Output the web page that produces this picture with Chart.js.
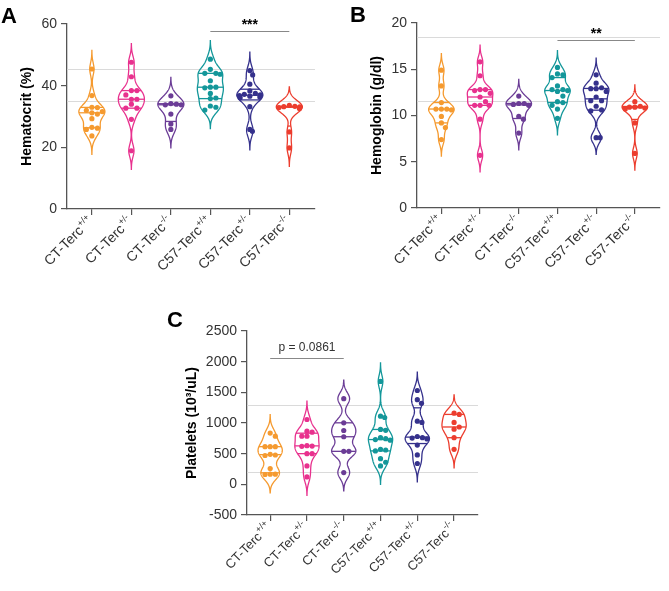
<!DOCTYPE html>
<html lang="en">
<head>
<meta charset="UTF-8">
<title>Terc blood counts</title>
<script src="https://cdn.jsdelivr.net/npm/chart.js"></script>
<style>
  body { margin: 0; background: #fff; font-family: "Liberation Sans", Arial, sans-serif; }
  .wrap { position: relative; width: 669px; height: 591px; }
  canvas, .letter { position: absolute; }
  .letter { font-weight: bold; font-size: 22px; line-height: 22px; color: #000; }
</style>
</head>
<body>
<div class="wrap">
  <canvas id="chartA" width="335" height="300" style="left:0;top:0"></canvas>
  <canvas id="chartB" width="334" height="300" style="left:335px;top:0"></canvas>
  <canvas id="chartC" width="340" height="291" style="left:160px;top:300px"></canvas>
  <div class="letter" style="left:1px;top:5px">A</div>
  <div class="letter" style="left:350px;top:4px">B</div>
  <div class="letter" style="left:167px;top:309px">C</div>
</div>
<script>
  // groups on the x axis
  var categories = ['CT-Terc', 'CT-Terc', 'CT-Terc', 'C57-Terc', 'C57-Terc', 'C57-Terc'];
  var genotypes = ['+/+', '+/-', '-/-', '+/+', '+/-', '-/-'];
  var colors = ['#F59A2F', '#E8318E', '#6B3C96', '#13979A', '#35318C', '#EC3D2E'];

  // values, one array per group
  var hematocrit = [
    [45.4, 36.8, 33.0, 32.9, 32.0, 31.6, 31.2, 30.8, 29.3, 26.5, 26.2, 25.8, 23.7],
    [47.6, 42.9, 38.4, 38.4, 37.0, 35.6, 35.6, 34.0, 32.7, 32.7, 29.1, 18.9],
    [36.7, 34.2, 34.0, 33.8, 33.8, 30.8, 27.6, 25.8],
    [48.6, 45.3, 44.0, 44.0, 43.7, 41.6, 39.5, 39.5, 39.3, 37.5, 36.0, 35.8, 33.4, 33.0, 32.1],
    [44.9, 43.5, 40.5, 38.3, 37.5, 37.2, 37.0, 36.8, 36.6, 36.3, 36.1, 33.2, 25.8, 25.2],
    [33.6, 33.3, 33.2, 33.1, 32.9, 32.6, 25.0, 19.8]
  ];
  var hemoglobin = [
    [14.9, 13.2, 11.4, 10.7, 10.7, 10.7, 10.6, 9.9, 9.2, 8.7, 7.4],
    [15.8, 14.3, 12.8, 12.8, 12.7, 12.4, 12.0, 11.5, 11.1, 11.1, 11.1, 9.6, 5.7],
    [12.1, 11.3, 11.3, 11.2, 11.1, 9.9, 9.6, 8.1],
    [15.2, 14.5, 14.4, 14.1, 13.2, 12.8, 12.8, 12.7, 12.6, 12.1, 11.5, 11.4, 11.1, 10.7, 9.7],
    [14.4, 13.5, 13.0, 12.9, 12.9, 12.6, 12.0, 11.6, 11.6, 11.0, 10.6, 10.5, 7.6, 7.6],
    [11.5, 11.0, 10.9, 10.9, 10.8, 10.7, 9.2, 5.9]
  ];
  var platelets = [
    [835, 786, 614, 614, 614, 490, 478, 470, 257, 165, 165, 160],
    [1057, 867, 850, 786, 786, 630, 624, 620, 500, 500, 300, 121],
    [1397, 1003, 878, 776, 538, 538, 192],
    [1678, 1111, 1090, 895, 880, 760, 745, 730, 720, 570, 560, 545, 419, 360, 300],
    [1530, 1380, 1320, 1030, 1010, 780, 760, 755, 740, 640, 480, 340],
    [1160, 1140, 1010, 935, 900, 760, 570]
  ];

  // normal ranges (light grey lines)
  var hctRange = [35, 45.5];
  var hgbRange = [11.6, 18.5];
  var pltRange = [200, 1290];

  var font = '"Liberation Sans", Arial, sans-serif';
  var violinWidth = 0.33;

  function density(vals, v, h) {
    var s = 0;
    vals.forEach(function (d) { var z = (v - d) / h; s += Math.exp(-0.5 * z * z); });
    return s;
  }

  function peakDensity(vals, h) {
    var lo = Math.min.apply(null, vals) - 3 * h, hi = Math.max.apply(null, vals) + 3 * h, m = 0;
    for (var k = 0; k <= 200; k++) m = Math.max(m, density(vals, lo + (hi - lo) * k / 200, h));
    return m;
  }

  function quantile(vals, p) {
    var s = vals.slice().sort(function (a, b) { return a - b; });
    var pos = p * (s.length + 1) - 1;
    if (pos <= 0) return s[0];
    if (pos >= s.length - 1) return s[s.length - 1];
    var lo = Math.floor(pos);
    return s[lo] + (pos - lo) * (s[lo + 1] - s[lo]);
  }

  // spread points with (nearly) equal values sideways, kept inside the violin
  function swarm(vals, idx, tol, h) {
    var step = 0.14, placed = [], peak = peakDensity(vals, h);
    return vals.map(function (v) {
      var off = 0;
      for (var k = 0; k < 14; k++) {
        var cand = k === 0 ? 0 : (k % 2 ? 1 : -1) * Math.ceil(k / 2) * step;
        var hit = placed.some(function (p) { return Math.abs(p.v - v) < tol && Math.abs(p.o - cand) < step * 0.9; });
        if (!hit) { off = cand; break; }
      }
      placed.push({ v: v, o: off });
      var lim = 0.8 * violinWidth * density(vals, v, h) / peak;
      off = Math.max(-lim, Math.min(lim, off));
      return { x: idx + off, y: v };
    });
  }

  var violinPlugin = {
    id: 'violins',
    beforeDatasetsDraw: function (chart, args, o) {
      var ctx = chart.ctx, a = chart.chartArea, x = chart.scales.x, y = chart.scales.y;
      ctx.save();
      ctx.strokeStyle = '#dadada';
      ctx.lineWidth = 1;
      o.range.forEach(function (v) {
        var py = Math.round(y.getPixelForValue(v)) + 0.5;
        ctx.beginPath(); ctx.moveTo(a.left, py); ctx.lineTo(a.right, py); ctx.stroke();
      });
      o.data.forEach(function (vals, i) {
        var lo = Math.min.apply(null, vals) - 3 * o.bw;
        var hi = Math.max.apply(null, vals) + 3 * o.bw;
        var n = 200, pts = [];
        for (var k = 0; k <= n; k++) {
          var v = lo + (hi - lo) * k / n;
          pts.push([v, density(vals, v, o.bw)]);
        }
        var peak = Math.max.apply(null, pts.map(function (p) { return p[1]; }));
        var w = function (d) { return violinWidth * d / peak; };
        ctx.strokeStyle = colors[i];
        ctx.lineWidth = 1.3;
        ctx.beginPath();
        pts.forEach(function (p, k) {
          var px = x.getPixelForValue(i + w(p[1])), py = y.getPixelForValue(p[0]);
          if (k) ctx.lineTo(px, py); else ctx.moveTo(px, py);
        });
        for (var k2 = n; k2 >= 0; k2--) {
          ctx.lineTo(x.getPixelForValue(i - w(pts[k2][1])), y.getPixelForValue(pts[k2][0]));
        }
        ctx.closePath();
        ctx.stroke();
        [0.25, 0.5, 0.75].forEach(function (p) {
          var q = quantile(vals, p), hw = w(density(vals, q, o.bw)), py = y.getPixelForValue(q);
          ctx.beginPath();
          ctx.moveTo(x.getPixelForValue(i - hw), py);
          ctx.lineTo(x.getPixelForValue(i + hw), py);
          ctx.stroke();
        });
      });
      ctx.restore();
    },
    afterDraw: function (chart, args, o) {
      var ctx = chart.ctx, a = chart.chartArea, x = chart.scales.x, y = chart.scales.y;
      ctx.save();
      // y title
      ctx.translate(a.left - o.titleGap, (a.top + a.bottom) / 2);
      ctx.rotate(-Math.PI / 2);
      ctx.fillStyle = '#000';
      ctx.font = 'bold 14px ' + font;
      ctx.textAlign = 'center';
      ctx.textBaseline = 'middle';
      ctx.fillText(o.title, 0, 0);
      ctx.restore();

      // rotated group labels with superscript genotype
      categories.forEach(function (c, i) {
        ctx.save();
        ctx.translate(x.getPixelForValue(i) + 2, x.top + 13);
        ctx.rotate(-Math.PI / 4);
        ctx.fillStyle = '#333';
        ctx.font = '9px ' + font;
        var ws = ctx.measureText(genotypes[i]).width;
        ctx.textAlign = 'right';
        ctx.textBaseline = 'alphabetic';
        ctx.fillText(genotypes[i], 0, -6);
        ctx.font = o.labelSize + 'px ' + font;
        ctx.fillText(c, -ws - 0.5, 0);
        ctx.restore();
      });

      // significance bar
      var s = o.sig;
      var py = Math.round(y.getPixelForValue(s.at)) + 0.5;
      ctx.save();
      ctx.strokeStyle = '#888';
      ctx.lineWidth = 1;
      ctx.beginPath();
      ctx.moveTo(x.getPixelForValue(s.from), py);
      ctx.lineTo(x.getPixelForValue(s.to), py);
      ctx.stroke();
      ctx.fillStyle = s.bold ? '#000' : '#333';
      ctx.font = (s.bold ? 'bold 14px ' : '12px ') + font;
      ctx.textAlign = 'center';
      ctx.textBaseline = 'alphabetic';
      ctx.fillText(s.text, (x.getPixelForValue(s.from) + x.getPixelForValue(s.to)) / 2, py - s.lift);
      ctx.restore();
    }
  };

  function axisStyle() {
    return {
      grid: { drawOnChartArea: false, drawTicks: true, tickLength: 6, color: '#555', lineWidth: 1.2 },
      border: { color: '#555', width: 1.3 }
    };
  }

  function makePanel(id, cfg) {
    var xs = axisStyle(), ys = axisStyle();
    return new Chart(document.getElementById(id), {
      type: 'scatter',
      data: {
        datasets: cfg.data.map(function (vals, i) {
          return {
            data: swarm(vals, i, cfg.tol, cfg.bw),
            backgroundColor: colors[i],
            borderWidth: 0,
            pointRadius: 2.6,
            pointHoverRadius: 2.6
          };
        })
      },
      options: {
        responsive: false,
        animation: false,
        layout: { padding: cfg.pad },
        plugins: {
          legend: { display: false },
          tooltip: { enabled: false },
          violins: {
            data: cfg.data, range: cfg.range, bw: cfg.bw,
            title: cfg.title, titleGap: cfg.titleGap, labelSize: cfg.labelSize, sig: cfg.sig
          }
        },
        scales: {
          x: {
            type: 'linear', min: -0.63, max: 5.65,
            afterBuildTicks: function (s) { s.ticks = categories.map(function (c, i) { return { value: i }; }); },
            afterFit: function (s) { s.height = cfg.xHeight; },
            ticks: { autoSkip: false, callback: function () { return ''; } },
            grid: xs.grid, border: xs.border
          },
          y: {
            min: cfg.yMin, max: cfg.yMax,
            afterFit: function (s) { s.width = cfg.yWidth; },
            ticks: {
              stepSize: cfg.yStep, color: '#333', padding: 4, font: { size: 14, family: font },
              callback: function (v) { return String(v); }
            },
            grid: ys.grid, border: ys.border
          }
        }
      },
      plugins: [violinPlugin]
    });
  }

  makePanel('chartA', {
    data: hematocrit, range: hctRange, bw: 2.0, tol: 1.6,
    yMin: 0, yMax: 60, yStep: 20, yWidth: 67, xHeight: 91,
    pad: { top: 24, right: 20, left: 0, bottom: 0 },
    title: 'Hematocrit (%)', titleGap: 40, labelSize: 14,
    sig: { from: 3, to: 5, at: 57.8, text: '***', bold: true, lift: 3 }
  });

  makePanel('chartB', {
    data: hemoglobin, range: hgbRange, bw: 0.6, tol: 0.55,
    yMin: 0, yMax: 20, yStep: 5, yWidth: 82, xHeight: 92,
    pad: { top: 23, right: 9, left: 0, bottom: 0 },
    title: 'Hemoglobin (g/dl)', titleGap: 40, labelSize: 14,
    sig: { from: 3, to: 5, at: 18.2, text: '**', bold: true, lift: 3 }
  });

  makePanel('chartC', {
    data: platelets, range: pltRange, bw: 100, tol: 80,
    yMin: -500, yMax: 2500, yStep: 500, yWidth: 87, xHeight: 76,
    pad: { top: 31, right: 22, left: 0, bottom: 0 },
    title: 'Platelets (10\u00b3/uL)', titleGap: 55, labelSize: 13,
    sig: { from: 0, to: 2, at: 2055, text: 'p = 0.0861', bold: false, lift: 8 }
  });
</script>
</body>
</html>
